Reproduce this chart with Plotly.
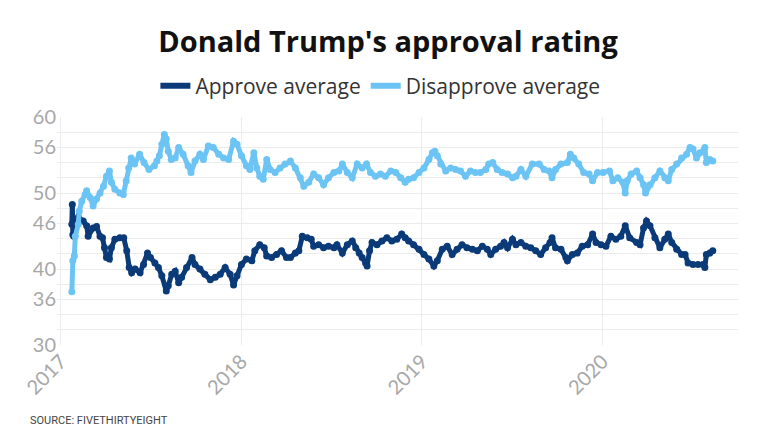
import plotly.graph_objects as go

approve_dates = [
    "2017-01-23", "2017-01-24", "2017-01-25", "2017-01-27", "2017-02-05", "2017-02-15", "2017-02-22",
    "2017-02-25", "2017-03-07", "2017-03-14", "2017-03-21", "2017-03-26", "2017-03-30", "2017-04-03",
    "2017-04-09", "2017-04-13", "2017-04-20", "2017-04-30", "2017-05-08", "2017-05-14", "2017-05-19",
    "2017-05-24", "2017-05-31", "2017-06-10", "2017-06-17", "2017-06-25", "2017-07-01", "2017-07-10",
    "2017-07-17", "2017-07-24", "2017-08-02", "2017-08-06", "2017-08-13", "2017-08-20", "2017-08-27",
    "2017-09-02", "2017-09-12", "2017-09-23", "2017-09-29", "2017-10-09", "2017-10-19", "2017-10-30",
    "2017-11-09", "2017-11-19", "2017-11-29", "2017-12-09", "2017-12-16", "2017-12-23", "2018-01-01",
    "2018-01-11", "2018-01-22", "2018-01-28", "2018-02-07", "2018-02-16", "2018-02-21", "2018-03-03",
    "2018-03-13", "2018-03-23", "2018-04-02", "2018-04-10", "2018-04-20", "2018-04-27", "2018-05-04",
    "2018-05-14", "2018-05-22", "2018-05-27", "2018-06-06", "2018-06-16", "2018-06-26", "2018-07-07",
    "2018-07-13", "2018-07-24", "2018-08-03", "2018-08-13", "2018-08-20", "2018-08-27", "2018-09-02",
    "2018-09-09", "2018-09-12", "2018-09-17", "2018-09-22", "2018-10-02", "2018-10-12", "2018-10-22",
    "2018-11-01", "2018-11-11", "2018-11-21", "2018-11-28", "2018-12-05", "2018-12-15", "2018-12-26",
    "2019-01-05", "2019-01-15", "2019-01-25", "2019-02-01", "2019-02-11", "2019-02-21", "2019-03-03",
    "2019-03-13", "2019-03-23", "2019-04-02", "2019-04-13", "2019-04-23", "2019-05-03", "2019-05-13",
    "2019-05-20", "2019-05-30", "2019-06-09", "2019-06-16", "2019-06-23", "2019-07-03", "2019-07-10",
    "2019-07-20", "2019-07-30", "2019-08-09", "2019-08-19", "2019-08-29", "2019-09-08", "2019-09-17",
    "2019-09-21", "2019-09-28", "2019-10-09", "2019-10-19", "2019-10-22", "2019-11-01", "2019-11-11",
    "2019-11-21", "2019-12-02", "2019-12-12", "2019-12-19", "2019-12-29", "2020-01-08", "2020-01-18",
    "2020-01-28", "2020-02-07", "2020-02-16", "2020-02-25", "2020-03-10", "2020-03-17", "2020-03-24",
    "2020-03-30", "2020-04-06", "2020-04-16", "2020-04-26", "2020-05-06", "2020-05-13", "2020-05-20",
    "2020-05-30", "2020-06-09", "2020-06-16", "2020-06-22", "2020-07-02", "2020-07-12", "2020-07-22",
    "2020-07-26", "2020-07-29", "2020-08-05", "2020-08-11",
]
approve_values = [
    45.9, 48.5, 44.5, 44.3, 46.8, 46.3, 45.7,
    44.3, 45.4, 45.6, 44.3, 44.1, 42.8, 41.5,
    41.3, 42.8, 43.9, 44.1, 44.1, 42.4, 40.2,
    39.5, 40.0, 39.5, 40.6, 42.1, 41.5, 40.8,
    40.2, 39.1, 37.1, 37.8, 39.3, 39.7, 38.2,
    38.9, 40.2, 41.5, 40.6, 40.0, 39.3, 38.6,
    38.9, 39.3, 40.2, 39.3, 37.9, 39.1, 40.6,
    41.3, 41.1, 42.4, 43.2, 42.8, 41.7, 41.5,
    41.9, 42.4, 41.5, 41.5, 42.1, 42.4, 44.3,
    44.1, 43.9, 43.0, 43.2, 42.8, 43.0, 42.8,
    43.2, 42.1, 43.2, 43.7, 42.8, 42.1, 41.5,
    40.8, 40.4, 42.4, 43.5, 43.2, 43.7, 44.1,
    43.7, 43.9, 44.6, 44.1, 43.7, 43.2, 42.6,
    41.9, 41.3, 40.4, 41.1, 42.6, 43.0, 41.9,
    42.6, 43.2, 42.8, 42.6, 42.4, 43.0, 42.6,
    41.9, 42.6, 43.0, 43.5, 42.8, 43.9, 43.2,
    43.5, 43.0, 42.8, 42.4, 41.9, 42.8, 43.5,
    44.1, 42.8, 42.6, 41.5, 41.1, 41.9, 42.1,
    43.0, 43.2, 44.6, 43.5, 43.2, 43.0, 44.3,
    43.9, 44.3, 45.7, 44.1, 43.5, 43.2, 45.4,
    46.3, 45.7, 44.1, 42.8, 43.9, 44.6, 43.5,
    42.6, 41.9, 41.9, 40.8, 40.6, 40.6, 40.6,
    40.2, 41.9, 42.1, 42.4,
]

disapprove_dates = [
    "2017-01-23", "2017-01-25", "2017-01-28", "2017-01-30", "2017-02-05", "2017-02-07", "2017-02-12",
    "2017-02-19", "2017-02-22", "2017-03-01", "2017-03-07", "2017-03-14", "2017-03-21", "2017-03-28",
    "2017-04-03", "2017-04-09", "2017-04-13", "2017-04-20", "2017-04-30", "2017-05-07", "2017-05-13",
    "2017-05-18", "2017-05-23", "2017-05-30", "2017-06-09", "2017-06-18", "2017-06-28", "2017-07-09",
    "2017-07-14", "2017-07-19", "2017-07-24", "2017-07-29", "2017-08-02", "2017-08-06", "2017-08-12",
    "2017-08-20", "2017-08-27", "2017-09-05", "2017-09-15", "2017-09-21", "2017-09-29", "2017-10-09",
    "2017-10-16", "2017-10-26", "2017-11-05", "2017-11-16", "2017-11-26", "2017-12-06", "2017-12-16",
    "2017-12-23", "2018-01-01", "2018-01-11", "2018-01-18", "2018-01-26", "2018-02-01", "2018-02-07",
    "2018-02-14", "2018-02-21", "2018-02-28", "2018-03-10", "2018-03-20", "2018-03-30", "2018-04-10",
    "2018-04-20", "2018-04-30", "2018-05-07", "2018-05-17", "2018-05-27", "2018-06-06", "2018-06-16",
    "2018-06-26", "2018-07-07", "2018-07-17", "2018-07-24", "2018-08-03", "2018-08-13", "2018-08-23",
    "2018-09-02", "2018-09-11", "2018-09-19", "2018-09-29", "2018-10-09", "2018-10-19", "2018-10-30",
    "2018-11-09", "2018-11-19", "2018-11-28", "2018-12-05", "2018-12-15", "2018-12-26", "2019-01-05",
    "2019-01-15", "2019-01-22", "2019-01-27", "2019-02-01", "2019-02-08", "2019-02-18", "2019-02-28",
    "2019-03-10", "2019-03-20", "2019-03-30", "2019-04-09", "2019-04-19", "2019-04-29", "2019-05-10",
    "2019-05-16", "2019-05-24", "2019-06-02", "2019-06-12", "2019-06-23", "2019-07-03", "2019-07-10",
    "2019-07-20", "2019-07-30", "2019-08-12", "2019-08-26", "2019-09-05", "2019-09-15", "2019-09-21",
    "2019-09-28", "2019-10-09", "2019-10-22", "2019-10-28", "2019-11-04", "2019-11-14", "2019-11-24",
    "2019-12-05", "2019-12-12", "2019-12-22", "2020-01-02", "2020-01-15", "2020-01-22", "2020-02-01",
    "2020-02-11", "2020-02-16", "2020-02-20", "2020-02-28", "2020-03-10", "2020-03-17", "2020-03-24",
    "2020-03-28", "2020-04-06", "2020-04-16", "2020-04-26", "2020-05-06", "2020-05-13", "2020-05-20",
    "2020-05-30", "2020-06-09", "2020-06-19", "2020-06-26", "2020-07-02", "2020-07-09", "2020-07-16",
    "2020-07-26", "2020-07-29", "2020-08-05", "2020-08-11",
]
disapprove_values = [
    37.0, 41.1, 41.7, 44.3, 45.9, 47.6, 48.9,
    49.8, 50.3, 49.4, 48.3, 49.2, 50.0, 50.9,
    52.2, 52.9, 51.4, 50.5, 50.0, 49.8, 51.6,
    53.3, 54.6, 53.8, 55.1, 54.0, 53.1, 53.6,
    54.2, 54.9, 56.4, 57.7, 57.1, 55.5, 54.4,
    54.6, 56.0, 55.1, 53.6, 52.7, 54.2, 55.1,
    54.4, 56.2, 56.0, 55.1, 54.6, 54.4, 56.8,
    56.4, 54.9, 53.6, 53.1, 55.3, 53.3, 52.2,
    51.8, 54.4, 53.1, 52.7, 53.3, 53.8, 54.2,
    53.3, 52.0, 50.9, 51.4, 52.5, 52.0, 51.1,
    52.0, 52.7, 52.9, 53.8, 52.7, 52.0, 53.8,
    53.3, 53.8, 52.7, 52.2, 52.5, 52.2, 52.9,
    52.7, 52.0, 51.4, 51.8, 52.0, 52.7, 53.3,
    54.4, 55.3, 55.5, 54.9, 53.8, 52.9, 53.3,
    53.1, 52.9, 52.2, 52.9, 52.7, 52.7, 53.1,
    53.8, 54.0, 53.1, 52.7, 52.5, 52.0, 52.2,
    53.1, 52.2, 53.8, 53.8, 53.1, 52.9, 52.0,
    53.1, 53.8, 54.0, 55.1, 54.6, 53.8, 52.7,
    52.5, 51.6, 52.7, 52.7, 52.9, 51.6, 52.0,
    51.4, 50.0, 51.6, 52.5, 52.9, 52.0, 51.1,
    50.0, 51.1, 52.0, 52.9, 52.0, 51.6, 53.1,
    53.8, 54.6, 55.1, 56.0, 55.8, 54.6, 55.3,
    56.0, 54.0, 54.4, 54.2,
]

y_tick_values = [30, 36, 40, 46, 50, 56, 60]
title_text = "Donald Trump's approval rating"
source_text = "SOURCE: FIVETHIRTYEIGHT"

approve_color = "#0a3a78"
disapprove_color = "#6cc4f4"
grid_color = "#ececec"
tick_color = "#a8a8a8"

# The page adds an 8px body margin, so the figure is drawn 8px smaller
W, H = 760, 424
L, T, B, R = 49, 109, 87, 30
PW, PH = W - L - R, H - T - B

fig = go.Figure()
for name, xs, ys, col in [
    ("Approve average", approve_dates, approve_values, approve_color),
    ("Disapprove average", disapprove_dates, disapprove_values, disapprove_color),
]:
    fig.add_trace(go.Scatter(
        x=xs, y=ys, mode="lines+markers", name=name, showlegend=False,
        line=dict(color=col, width=5), marker=dict(color=col, size=7),
        hoverinfo="skip",
    ))
for name, col in [("Approve average", approve_color), ("Disapprove average", disapprove_color)]:
    fig.add_trace(go.Scatter(
        x=[None], y=[None], mode="lines", name=name,
        line=dict(color=col, width=6),
    ))

fig.update_layout(
    width=W, height=H,
    margin=dict(l=L, r=R, t=T, b=B, autoexpand=False),
    paper_bgcolor="white", plot_bgcolor="white",
    font=dict(family="Lato, Open Sans, sans-serif"),
    title=dict(text=title_text, x=0.5, xanchor="center", y=1 - 34 / H, yanchor="middle",
               yref="container",
               font=dict(family="Open Sans, sans-serif", size=29, color="#111111", weight="bold")),
    legend=dict(orientation="h", xref="container", x=0.49, xanchor="center",
                y=(H - B - 78) / PH, yanchor="middle",
                font=dict(family="Open Sans, sans-serif", size=21, color="#333333"), itemwidth=30,
                tracegroupgap=0, bgcolor="rgba(0,0,0,0)"),
    showlegend=True,
)
fig.update_xaxes(
    type="date", range=["2016-12-24", "2020-10-01"], automargin=False,
    dtick="M12", tick0="2017-01-01", tickformat="%Y", tickangle=-45,
    showgrid=True, gridcolor=grid_color, gridwidth=1,
    zeroline=False, showline=False, ticks="",
    tickfont=dict(size=20, color=tick_color),
)
fig.update_yaxes(
    range=[30, 60], tickvals=y_tick_values, ticktext=[str(v) for v in y_tick_values],
    automargin=False,
    showgrid=True, gridcolor=grid_color, gridwidth=1,
    minor=dict(tick0=30, dtick=2, showgrid=True, gridcolor=grid_color, gridwidth=1),
    zeroline=False, showline=False, ticks="",
    tickfont=dict(size=20, color=tick_color),
)
fig.add_annotation(
    text=source_text, xref="paper", yref="paper", x=-(L - 20) / PW, y=-(412 - (H - B)) / PH,
    xanchor="left", yanchor="middle", showarrow=False,
    font=dict(family="Liberation Sans Narrow, Roboto, sans-serif", size=11, color="#444444"),
)

fig.write_html("out.html")
